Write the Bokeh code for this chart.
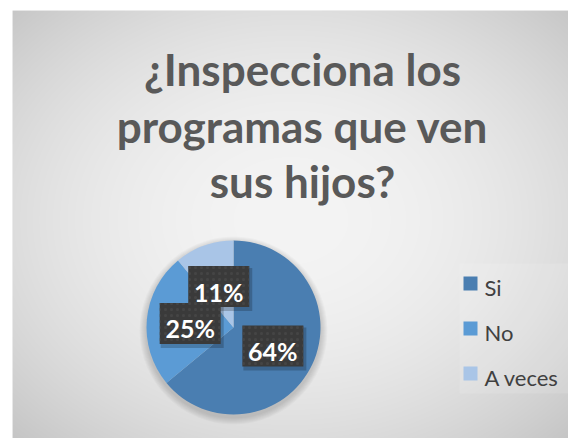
import numpy as np
from bokeh.plotting import figure
from bokeh.models import Range1d
from bokeh.core.properties import value
from bokeh.embed import file_html
from bokeh.resources import INLINE

# ---- data ----
categories = ["Si", "No", "A veces"]
percent = [64, 25, 11]
colors = ["#4a7eb1", "#5b9bd5", "#a9c5e7"]
title_lines = ["¿Inspecciona los", "programas que ven", "sus hijos?"]

# ---- layout (pixel-like data space) ----
FW, FH = 556, 428
W, H = FW + 12, FH + 10
p = figure(width=W, height=H, output_backend="svg", toolbar_location=None,
           x_range=Range1d(0, FW), y_range=Range1d(-8, FH - 8),
           x_axis_location=None, y_axis_location=None,
           min_border_left=12, min_border_top=10, min_border_right=0, min_border_bottom=0)
p.grid.visible = False
p.outline_line_color = None
p.border_fill_color = "white"
p.background_fill_color = "#e4e4e4"

# background radial gradient
yy, xx = np.mgrid[0:FH, 0:FW]
yy = yy - 8
cx, cy, a, b = 278.0, 210.0, 290.0, 225.0
d = np.sqrt(((xx - cx) / a) ** 2 + ((yy - cy) / b) ** 2)
g = np.clip(244 - 50 * (d / 1.41) ** 2, 185, 250).astype(np.uint32)
img = (255 << 24) | (g << 16) | (g << 8) | g
p.image_rgba(image=[img.astype(np.uint32)], x=0, y=-8, dw=FW, dh=FH)

# legend background (slightly lighter panel)
p.rect(x=[506], y=[102], width=118, height=130, fill_color="white", fill_alpha=0.12, line_color=None)

# ---- pie ----
pcx, pcy, R = 221, 103, 87
total = float(sum(percent))
frac = np.array(percent) / total
cum = np.concatenate([[0], np.cumsum(frac)])
start = np.pi / 2 - 2 * np.pi * cum[:-1]
end = np.pi / 2 - 2 * np.pi * cum[1:]

# soft shadow
for k in range(1, 8):
    p.circle(x=[pcx], y=[pcy - 3], radius=R + k, fill_color="black", fill_alpha=0.025, line_color=None)

p.wedge(x=pcx, y=pcy, radius=R, start_angle=start, end_angle=end, direction="clock",
        fill_color=colors, line_color=None)

# data labels
mid = 2 * np.pi * (cum[:-1] + cum[1:]) / 2
lx = pcx + 0.5 * R * np.sin(mid)
ly = pcy + 0.5 * R * np.cos(mid)
labels = [f"{v}%" for v in percent]
p.rect(x=lx + 2, y=ly - 3, width=63, height=43, fill_color="black", fill_alpha=0.2, line_color=None)
p.rect(x=lx, y=ly, width=61, height=41, fill_color="#3a3a3a", line_color=None,
       hatch_pattern="dot", hatch_color="#4c4c4c", hatch_alpha=0.6, hatch_scale=6, hatch_weight=1.0)
p.text(x=lx, y=ly - 5, text=labels, text_font=value("Lato"), text_font_style="bold",
       text_font_size="25px", text_color="white", text_align="center", text_baseline="middle")

# ---- title ----
p.text(x=[290] * 3, y=[362, 305, 250], text=title_lines, text_font=value("Lato"),
       text_font_style="bold", text_font_size="44px", text_color="#595959",
       text_align="center", text_baseline="middle")

# ---- legend ----
n = len(categories)
lgx = [458] * n
lgy = [147 - 45 * i for i in range(n)]
p.rect(x=lgx, y=lgy, width=14, height=14, fill_color=colors, line_color=None)
p.text(x=[472] * n, y=[143.5 - 45 * i for i in range(n)], text=categories, text_font=value("Lato"),
       text_font_size="22px", text_color="#404040", text_align="left", text_baseline="middle")

open("out.html", "w").write(file_html(p, INLINE))
